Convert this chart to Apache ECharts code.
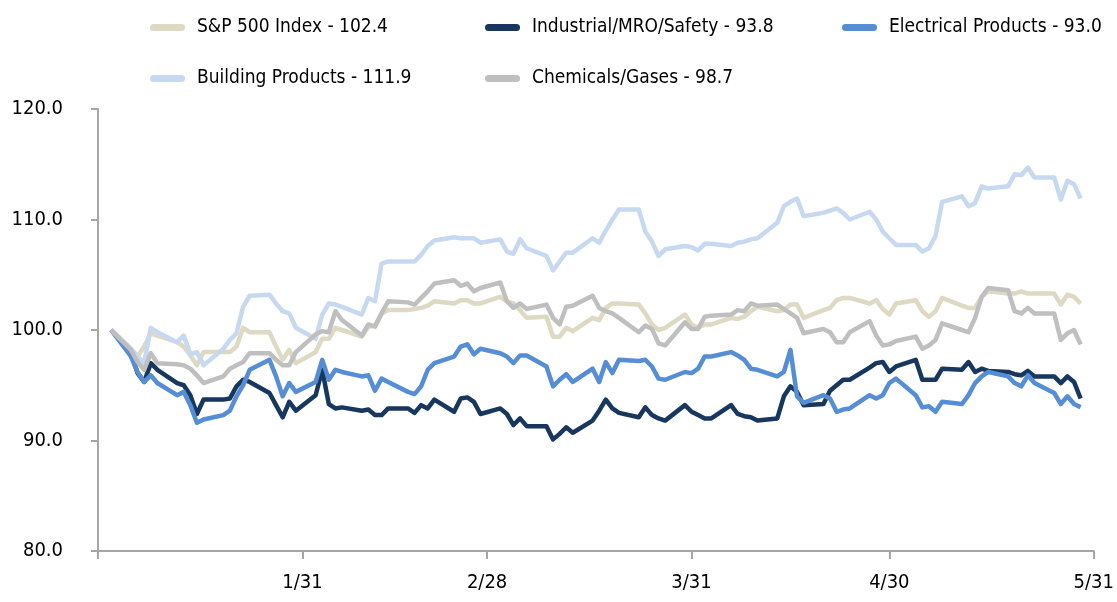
<!DOCTYPE html>
<html>
<head>
<meta charset="utf-8">
<script src="https://cdn.jsdelivr.net/npm/echarts@6/dist/echarts.min.js"></script>
<style>
  html, body { margin: 0; padding: 0; background: #fff; }
  #chart { width: 1117px; height: 602px; }
</style>
</head>
<body>
<div id="chart"></div>
<script>
const YEAR = 2015;

// trading days (M/D)
const dates = [
  '1/2','1/5','1/6','1/7','1/8','1/9','1/12','1/13','1/14','1/15','1/16','1/19','1/20','1/21','1/22','1/23','1/26','1/27','1/28','1/29','1/30',
  '2/2','2/3','2/4','2/5','2/6','2/9','2/10','2/11','2/12','2/13','2/16','2/17','2/18','2/19','2/20','2/23','2/24','2/25','2/26','2/27',
  '3/2','3/3','3/4','3/5','3/6','3/9','3/10','3/11','3/12','3/13','3/16','3/17','3/18','3/19','3/20','3/23','3/24','3/25','3/26','3/27','3/30','3/31',
  '4/1','4/2','4/3','4/6','4/7','4/8','4/9','4/10','4/13','4/14','4/15','4/16','4/17','4/20','4/21','4/22','4/23','4/24','4/27','4/28','4/29','4/30',
  '5/1','5/4','5/5','5/6','5/7','5/8','5/11','5/12','5/13','5/14','5/15','5/18','5/19','5/20','5/21','5/22','5/25','5/26','5/27','5/28','5/29'
];

const sp500 = [
  100,98.3,97.6,98.5,99.7,99.5,98.9,98.5,97.7,96.8,98.0,98.0,98.0,98.5,100.2,99.8,99.8,98.5,97.3,98.2,97.0,
  98.0,99.2,99.2,100.2,100.0,99.4,100.3,100.4,101.5,101.8,101.8,101.9,102.0,102.2,102.6,102.4,102.7,102.7,102.4,102.4,
  103.0,102.6,102.4,101.8,101.1,101.2,99.4,99.4,100.2,99.9,101.1,100.9,102.0,102.4,102.4,102.3,101.5,100.5,100.0,100.2,101.4,100.5,
  100.2,100.5,100.5,101.1,101.0,101.2,101.7,102.1,101.7,101.8,102.3,102.3,101.1,101.8,102.0,102.7,102.9,102.9,102.4,102.7,101.9,101.4,
  102.4,102.7,101.7,101.2,101.7,102.9,102.2,102.0,102.0,103.0,103.5,103.3,103.3,103.5,103.3,103.3,103.3,102.3,103.2,103.0,102.4
];
const industrial = [
  100,97.9,96.1,95.3,97.0,96.4,95.2,95.0,94.1,92.4,93.7,93.7,93.8,94.9,95.5,95.3,94.3,93.2,92.1,93.5,92.7,
  94.1,96.4,93.3,92.9,93.0,92.7,92.8,92.3,92.3,92.9,92.9,92.5,93.2,92.9,93.7,92.6,93.8,93.9,93.5,92.4,
  92.9,92.4,91.4,92.0,91.3,91.3,90.1,90.6,91.2,90.7,91.8,92.7,93.7,92.9,92.5,92.1,93.0,92.3,92.0,91.8,93.2,92.6,
  92.3,92.0,92.0,93.2,92.4,92.2,92.1,91.8,92.0,94.0,94.9,94.4,93.2,93.3,94.5,95.0,95.5,95.5,96.6,97.0,97.1,96.2,
  96.7,97.3,95.5,95.5,95.5,96.5,96.4,97.1,96.2,96.5,96.3,96.2,96.0,95.9,96.3,95.8,95.8,95.2,95.8,95.3,93.8
];
const electrical = [
  100,97.6,96.2,95.3,95.9,95.2,94.1,94.4,93.2,91.6,91.9,92.3,92.7,94.0,95.0,96.4,97.3,95.8,94.0,95.2,94.4,
  95.3,97.3,95.5,96.4,96.2,95.8,95.9,94.5,95.6,95.3,94.4,94.2,94.9,96.4,97.0,97.6,98.5,98.7,97.8,98.3,
  97.9,97.6,97.0,97.7,97.7,96.7,94.9,95.5,96.0,95.3,96.5,95.3,97.1,96.1,97.3,97.2,97.3,96.7,95.6,95.5,96.2,96.1,
  96.5,97.6,97.6,98.0,97.7,97.3,96.5,96.4,95.8,96.2,98.2,94.0,93.4,94.1,93.8,92.6,92.8,92.9,94.1,93.8,94.1,95.2,
  95.6,94.1,93.0,93.1,92.6,93.5,93.3,94.1,95.2,95.8,96.2,95.8,95.2,94.9,95.9,95.2,94.3,93.3,94.0,93.3,93.0
];
const building = [
  100,98.3,97.6,97.0,100.2,99.8,98.9,99.5,97.8,98.0,96.8,98.3,99.1,99.7,102.1,103.1,103.2,102.4,101.7,101.5,100.2,
  99.2,101.4,102.4,102.3,102.1,101.4,102.9,102.6,106.0,106.2,106.2,106.2,106.8,107.6,108.1,108.4,108.3,108.3,108.3,107.9,
  108.2,107.1,106.9,108.2,107.4,106.7,105.4,106.2,107.0,107.0,108.3,107.9,109.0,110.0,110.9,110.9,108.9,108.0,106.7,107.3,107.6,107.5,
  107.2,107.8,107.8,107.6,107.9,108.0,108.2,108.3,109.7,111.2,111.6,111.9,110.3,110.6,110.8,111.0,110.6,110.0,110.7,110.0,108.9,108.3,
  107.7,107.7,107.1,107.4,108.5,111.6,112.1,111.2,111.5,113.0,112.8,113.0,114.1,114.0,114.7,113.8,113.8,111.8,113.5,113.2,111.9
];
const chemicals = [
  100,98.2,97.1,96.4,97.9,97.0,96.9,96.8,96.5,95.9,95.2,95.8,96.5,96.8,97.1,97.9,97.9,97.3,96.8,96.8,98.0,
  99.6,99.9,99.8,101.7,100.9,99.5,100.5,100.3,101.5,102.6,102.5,102.3,102.9,103.5,104.2,104.5,104.0,104.2,103.5,103.8,
  104.3,102.6,102.0,102.4,101.9,102.3,101.1,100.5,102.1,102.2,103.1,102.0,101.7,101.5,101.1,99.8,100.4,100.1,98.8,98.6,100.7,100.1,
  100.1,101.2,101.3,101.4,101.8,101.7,102.4,102.2,102.3,101.9,101.5,101.1,99.7,100.1,99.8,98.9,98.9,99.8,100.8,99.5,98.6,98.7,
  99.0,99.4,98.3,98.6,99.1,100.6,100.0,99.8,101.1,103.0,103.8,103.6,101.7,101.5,102.0,101.5,101.5,99.1,99.7,100.0,98.7
];

const seriesNames = [
  'S&P 500 Index - 102.4',
  'Industrial/MRO/Safety - 93.8',
  'Electrical Products - 93.0',
  'Building Products - 111.9',
  'Chemicals/Gases - 98.7'
];
const seriesValues = [sp500, industrial, electrical, building, chemicals];
const seriesColors = ['#DDD9C3', '#17375E', '#558ED5', '#C6D9F1', '#BFBFBF'];

const monthEnds = ['1/31', '2/28', '3/31', '4/30', '5/31'];

// day number counted from Dec 31 of the previous year
const toDay = (s) => {
  const [m, d] = s.split('/').map(Number);
  return (Date.UTC(YEAR, m - 1, d) - Date.UTC(YEAR, 0, 0)) / 86400000;
};
const fromDay = (v) => {
  const dt = new Date(Date.UTC(YEAR, 0, v));
  return (dt.getUTCMonth() + 1) + '/' + dt.getUTCDate();
};

const days = dates.map(toDay);
const labelDays = monthEnds.map(toDay);

const FONT = "'DejaVu Sans Condensed', 'DejaVu Sans', sans-serif";
const TEXT = '#000';
const AXIS = '#A6A6A6';

const legendSpots = [[145, 13], [480, 13], [837, 13], [145, 64], [480, 64]];

const chart = echarts.init(document.getElementById('chart'));

const option = {
  backgroundColor: '#fff',
  animation: false,
  legend: seriesNames.map((name, i) => ({
    data: [name],
    left: legendSpots[i][0],
    top: legendSpots[i][1],
    icon: 'path://M4,0H36A4,4,0,0,1,36,8H4A4,4,0,0,1,4,0Z',
    itemWidth: 41,
    itemHeight: 7,
    itemGap: 0,
    selectedMode: false,
    textStyle: { fontFamily: FONT, fontSize: 19, color: TEXT, padding: [0, 0, 0, 4] }
  })),
  grid: { left: 98, right: 22, top: 109, bottom: 51, containLabel: false },
  xAxis: {
    type: 'value',
    min: 0,
    max: toDay('5/31'),
    splitLine: { show: false },
    axisLine: { show: true, lineStyle: { color: AXIS, width: 2 } },
    axisTick: {
      show: true,
      length: 8,
      customValues: [0].concat(labelDays),
      lineStyle: { color: AXIS, width: 2 }
    },
    axisLabel: {
      customValues: labelDays,
      formatter: (v) => fromDay(v),
      margin: 22,
      fontFamily: FONT,
      fontSize: 20,
      color: TEXT
    }
  },
  yAxis: {
    type: 'value',
    min: 80,
    max: 120,
    interval: 10,
    splitLine: { show: false },
    axisLine: { show: true, lineStyle: { color: AXIS, width: 2 } },
    axisTick: { show: true, length: 7, lineStyle: { color: AXIS, width: 2 } },
    axisLabel: {
      formatter: (v) => v.toFixed(1),
      margin: 35,
      fontFamily: FONT,
      fontSize: 20,
      color: TEXT
    }
  },
  series: seriesNames.map((name, i) => ({
    name: name,
    type: 'line',
    color: seriesColors[i],
    showSymbol: false,
    symbol: 'none',
    lineStyle: { width: 4.5, color: seriesColors[i], join: 'round' },
    data: days.map((d, k) => [d, seriesValues[i][k]])
  }))
};

chart.setOption(option);
</script>
</body>
</html>
